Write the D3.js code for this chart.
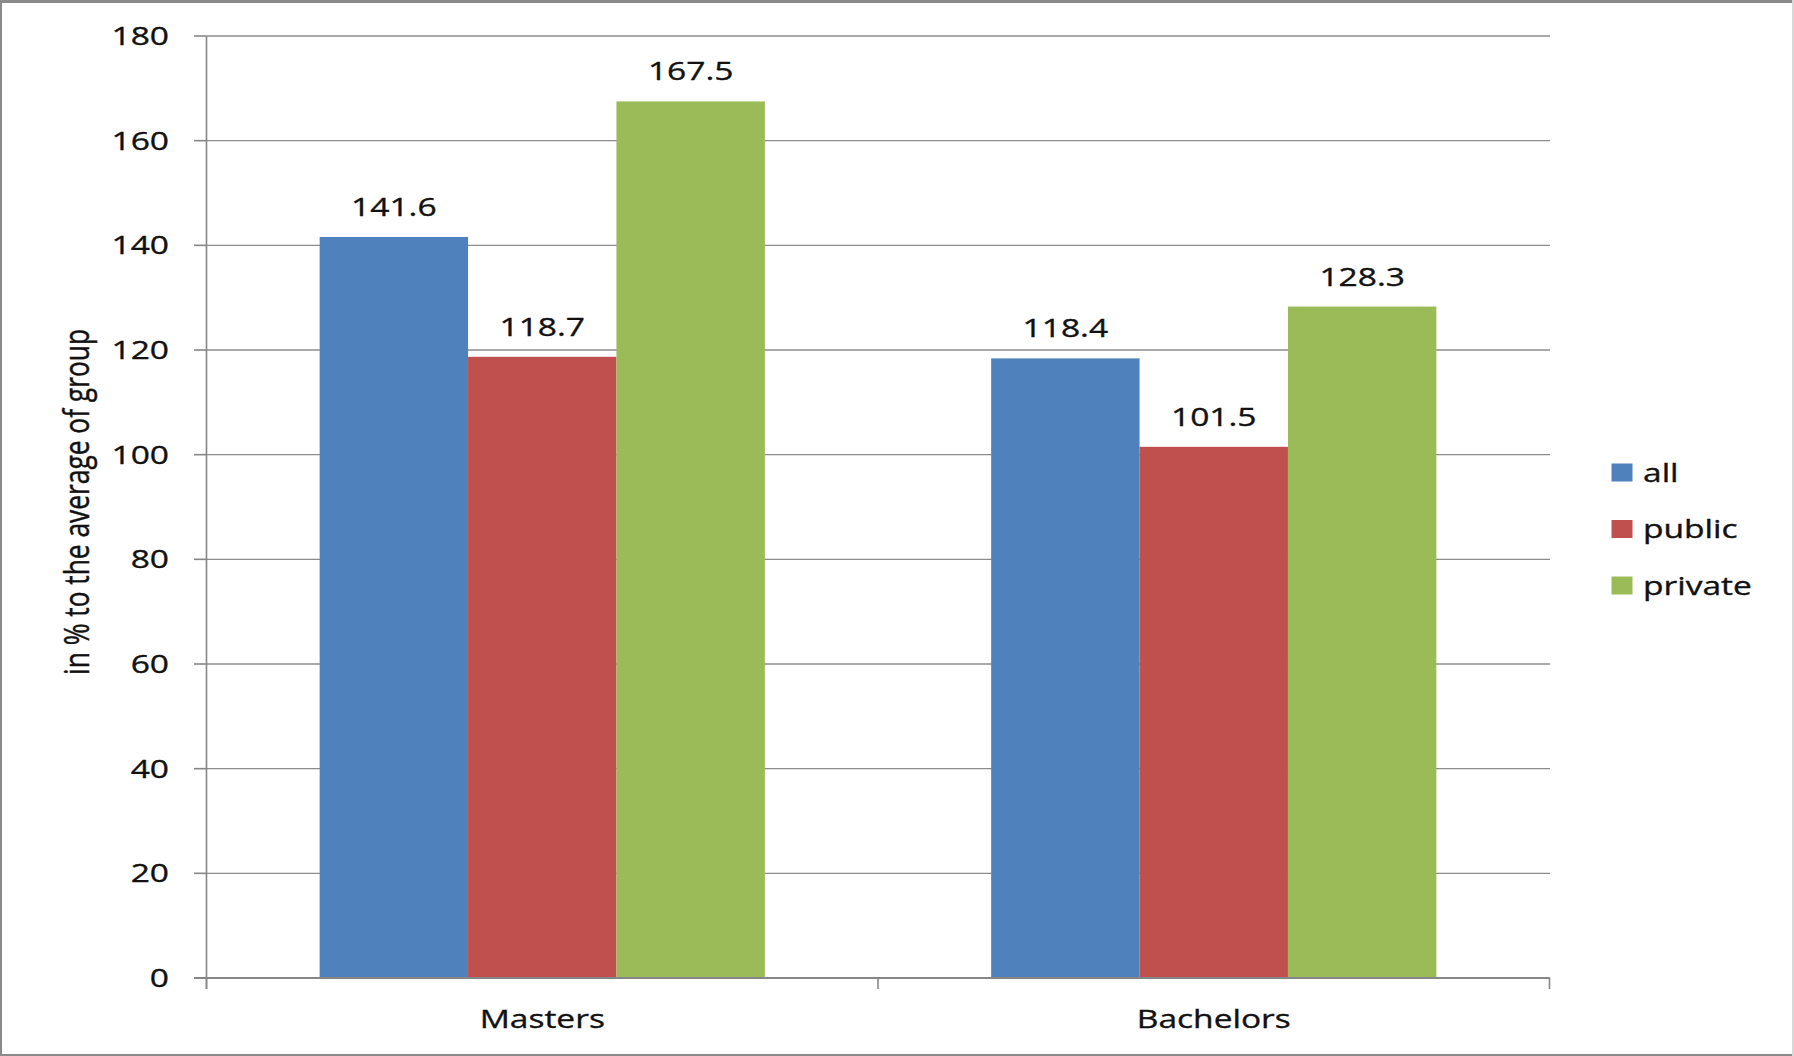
<!DOCTYPE html>
<html>
<head>
<meta charset="utf-8">
<script src="https://cdn.jsdelivr.net/npm/d3@7"></script>
<style>
  html, body { margin: 0; padding: 0; background: #fff; }
  svg { display: block; }
  text { font-family: "Open Sans", "DejaVu Sans", sans-serif; fill: #111; stroke: #111; stroke-width: 0.35px; }
</style>
</head>
<body>
<svg id="chart" width="1794" height="1056"></svg>
<script>
// Data
const categories = ["Masters", "Bachelors"];
const seriesNames = ["all", "public", "private"];
const allValues = [141.6, 118.4];
const publicValues = [118.7, 101.5];
const privateValues = [167.5, 128.3];
const yTicks = [0, 20, 40, 60, 80, 100, 120, 140, 160, 180];
const yTitle = "in % to the average of group";

const seriesValues = [allValues, publicValues, privateValues];
const colors = ["#4F81BD", "#C0504D", "#9BBB59"];

const W = 1794, H = 1056;
const plot = { left: 206.5, right: 1549.5, top: 36, bottom: 978 };
const textStretch = 1.29;   // glyphs are drawn wide
const fontSize = 26;

const svg = d3.select("#chart");

// Outer frame
svg.append("rect").attr("x", 0).attr("y", 0).attr("width", W).attr("height", H).attr("fill", "#fff");
svg.append("line").attr("x1", 0).attr("x2", W).attr("y1", 1.5).attr("y2", 1.5).attr("stroke", "#8a8a8a").attr("stroke-width", 3);
svg.append("line").attr("x1", 1).attr("x2", 1).attr("y1", 0).attr("y2", H).attr("stroke", "#8a8a8a").attr("stroke-width", 2);
svg.append("line").attr("x1", 0).attr("x2", W).attr("y1", H - 1).attr("y2", H - 1).attr("stroke", "#8a8a8a").attr("stroke-width", 2);
svg.append("line").attr("x1", W - 1).attr("x2", W - 1).attr("y1", 0).attr("y2", H).attr("stroke", "#d8d8d8").attr("stroke-width", 2);

// Scales
const x0 = d3.scaleBand().domain(categories).range([plot.left, plot.right])
  .paddingInner(0.337).paddingOuter(0.337 / 2);
const x1 = d3.scaleBand().domain(seriesNames).range([0, x0.bandwidth()]);
const y = d3.scaleLinear().domain([0, 180]).range([plot.bottom, plot.top]);

// Helper: stretched text anchored at (x, y)
function label(g, x, yPos, str, anchor) {
  return g.append("text")
    .attr("transform", `translate(${x},${yPos}) scale(${textStretch},1)`)
    .attr("text-anchor", anchor)
    .attr("font-size", fontSize)
    .text(str);
}

// Gridlines
svg.append("g").selectAll("line").data(yTicks.filter(d => d > 0)).join("line")
  .attr("x1", plot.left).attr("x2", plot.right + 0.5)
  .attr("y1", d => y(d)).attr("y2", d => y(d))
  .attr("stroke", "#8c8c8c").attr("stroke-width", 1.4);

// Bars
const groups = svg.append("g").selectAll("g").data(categories).join("g")
  .attr("transform", d => `translate(${x0(d)},0)`);
groups.each(function (cat, ci) {
  const g = d3.select(this);
  seriesNames.forEach((s, si) => {
    const v = seriesValues[si][ci];
    g.append("rect")
      .attr("x", x1(s)).attr("width", x1.bandwidth())
      .attr("y", y(v)).attr("height", y(0) - y(v))
      .attr("fill", colors[si]);
  });
});

// Value labels
const labelLayer = svg.append("g");
categories.forEach((cat, ci) => {
  seriesNames.forEach((s, si) => {
    const v = seriesValues[si][ci];
    label(labelLayer, x0(cat) + x1(s) + x1.bandwidth() / 2, y(v) - 21, v.toFixed(1), "middle");
  });
});

// Y axis line, ticks and labels
const axisColor = "#868686";
svg.append("line").attr("x1", plot.left).attr("x2", plot.left)
  .attr("y1", plot.top).attr("y2", plot.bottom + 11)
  .attr("stroke", axisColor).attr("stroke-width", 1.6);
svg.append("g").selectAll("line").data(yTicks).join("line")
  .attr("x1", plot.left - 12.5).attr("x2", plot.left)
  .attr("y1", d => y(d)).attr("y2", d => y(d))
  .attr("stroke", axisColor).attr("stroke-width", 1.6);
const yLabels = svg.append("g");
yTicks.forEach(t => label(yLabels, 169, y(t) + 9, String(t), "end"));

// X axis line, ticks and labels
svg.append("line").attr("x1", plot.left - 12.5).attr("x2", plot.right + 0.5)
  .attr("y1", plot.bottom).attr("y2", plot.bottom)
  .attr("stroke", axisColor).attr("stroke-width", 2.2);
const xTickPos = categories.map(c => x0(c) - x0.step() * x0.paddingInner() / 2)
  .concat([plot.right]);
svg.append("g").selectAll("line").data(xTickPos).join("line")
  .attr("x1", d => d).attr("x2", d => d)
  .attr("y1", plot.bottom).attr("y2", plot.bottom + 11)
  .attr("stroke", axisColor).attr("stroke-width", 1.6);
const xLabels = svg.append("g");
categories.forEach(c => label(xLabels, x0(c) + x0.bandwidth() / 2, 1028, c, "middle"));

// Y axis title
svg.append("text")
  .attr("transform", `translate(89,502) scale(1.25,1) rotate(-90)`)
  .attr("text-anchor", "middle")
  .attr("font-size", 27)
  .attr("textLength", 346)
  .attr("lengthAdjust", "spacingAndGlyphs")
  .text(yTitle);

// Legend
const legend = svg.append("g");
seriesNames.forEach((s, i) => {
  const base = 481.5 + i * 56.5;
  legend.append("rect").attr("x", 1611.5).attr("y", base - 18).attr("width", 21).attr("height", 18)
    .attr("fill", colors[i]);
  label(legend, 1643, base, s, "start");
});
</script>
</body>
</html>
